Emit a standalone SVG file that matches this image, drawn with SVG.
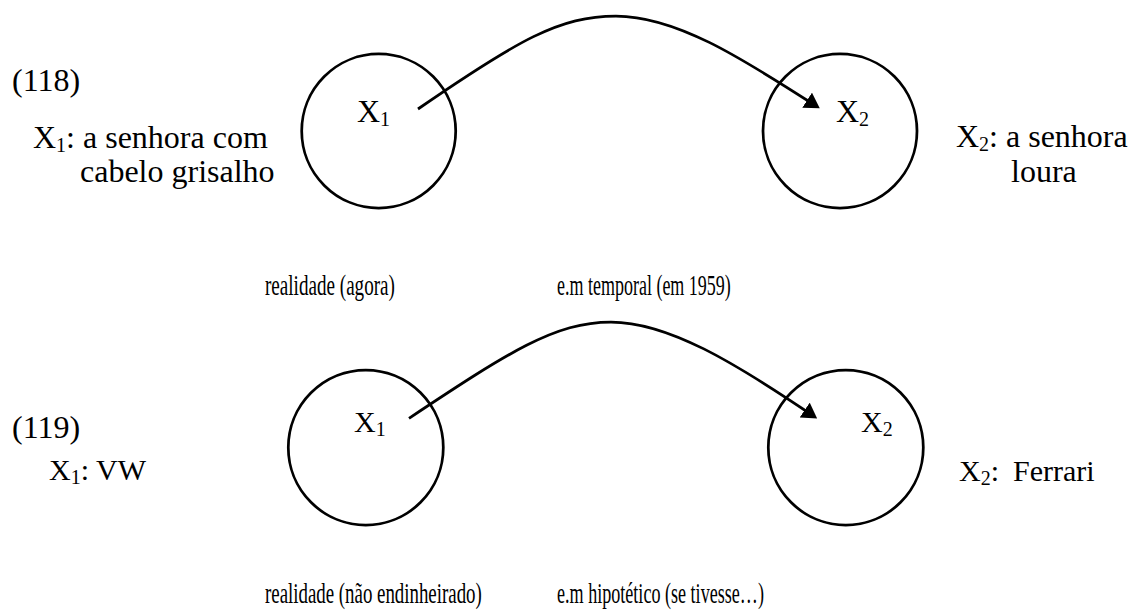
<svg xmlns="http://www.w3.org/2000/svg" width="1134" height="616" viewBox="0 0 1134 616" font-family="'Liberation Serif','Times New Roman',serif">
<style>
text{font-family:"Liberation Serif","Times New Roman",serif;fill:#000}
.t{font-size:32px}
.b{font-size:30px}
.c{font-size:30px}
.sub{font-size:20px}
.node{fill:none;stroke:#000;stroke-width:2.75}
.conn{fill:none;stroke:#000;stroke-width:2.75}
</style>
<defs>
<marker id="ah" markerUnits="userSpaceOnUse" markerWidth="15" markerHeight="18" refX="7" refY="9" orient="auto" viewBox="0 0 15 18">
<path d="M0,0 L15,9 L0,18 Z" fill="#000"/>
</marker>
</defs>
<rect width="1134" height="616" fill="#fff"/>

<g id="label-118">
<text class="t" x="12" y="91">(118)</text>
<text class="t" x="33" y="148">X<tspan class="sub" dy="4">1</tspan><tspan dy="-4">: a senhora com</tspan></text>
<text class="t" x="80" y="182">cabelo grisalho</text>
</g>
<g id="node-118-x1">
<circle class="node" cx="378.7" cy="131" r="77"/>
<text class="t" x="357" y="122">X<tspan class="sub" dy="4">1</tspan></text>
</g>
<g id="node-118-x2">
<circle class="node" cx="840" cy="131" r="77"/>
<text class="t" x="836" y="122">X<tspan class="sub" dy="4">2</tspan></text>
</g>
<g id="label-118-x2">
<text class="t" x="956" y="147">X<tspan class="sub" dy="4">2</tspan><tspan dy="-4">: a senhora</tspan></text>
<text class="t" x="1011" y="182">loura</text>
</g>
<g id="world-118">
<text class="c" transform="translate(265,295) scale(0.637,1)">realidade (agora)</text>
<text class="c" transform="translate(557,295) scale(0.6,1)">e.m temporal (em 1959)</text>
</g>

<g id="label-119">
<text class="t" x="12" y="438">(119)</text>
<text class="b" x="49" y="480">X<tspan class="sub" dy="4">1</tspan><tspan dy="-4">: VW</tspan></text>
</g>
<g id="node-119-x1">
<circle class="node" cx="365.8" cy="447.5" r="77.5"/>
<text class="b" x="354" y="432">X<tspan class="sub" dy="4">1</tspan></text>
</g>
<g id="node-119-x2">
<circle class="node" cx="845.8" cy="447.5" r="77.5"/>
<text class="b" x="861" y="432">X<tspan class="sub" dy="4">2</tspan></text>
</g>
<g id="label-119-x2">
<text class="b" x="959" y="481">X<tspan class="sub" dy="4">2</tspan><tspan dy="-4">:</tspan><tspan x="1013">Ferrari</tspan></text>
</g>
<g id="world-119">
<text class="c" transform="translate(265,603) scale(0.629,1)">realidade (não endinheirado)</text>
<text class="c" transform="translate(557,603) scale(0.603,1)">e.m hipotético (se tivesse…)</text>
</g>

<g id="connectors">
<path class="conn" marker-end="url(#ah)" d="M418,109 C518,40 560,16 616,16 C675,16 740,57 813,104"/>
<path class="conn" marker-end="url(#ah)" d="M409,418.3 C509,352 555,322 611,322 C668,322 735,363 810.5,414"/>
</g>
</svg>
